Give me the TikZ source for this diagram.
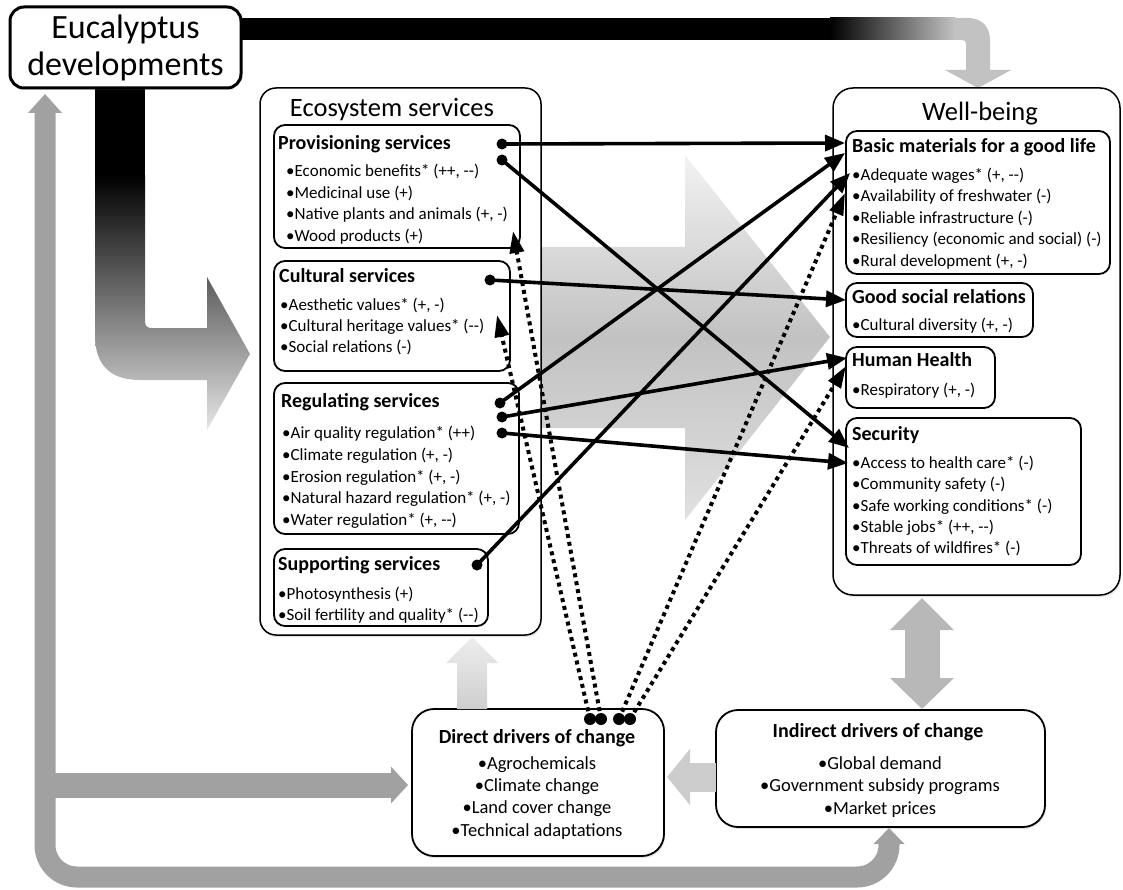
\documentclass[tikz,border=0pt]{standalone}
\usepackage{fontspec}
\setmainfont{Carlito}
\usetikzlibrary{arrows.meta,shadows}
\begin{document}
\begin{tikzpicture}[x=1pt,y=-1pt,
  shad/.style={drop shadow={shadow xshift=1pt,shadow yshift=-2pt,opacity=0.22}},
  obox/.style={draw, rounded corners=16pt, line width=1.5pt, fill=white, inner sep=0pt, shad},
  ibox/.style={draw, rounded corners=11pt, line width=1.8pt, fill=white, inner sep=0pt},
  dbox/.style={draw, rounded corners=22pt, line width=1.8pt, fill=white, inner sep=0pt, shad},
  ebox/.style={draw, rounded corners=14pt, line width=3pt, fill=white, inner sep=0pt, shad},
  head/.style={inner sep=0pt, font=\fontsize{20}{24}\selectfont\bfseries},
  item/.style={inner sep=0pt, font=\fontsize{17}{20}\selectfont},
  ditem/.style={inner sep=0pt, font=\fontsize{18.5}{22}\selectfont},
  title/.style={inner sep=0pt, font=\fontsize{26.5}{30}\selectfont},
  dot/.style={circle, fill=black, inner sep=0pt, minimum size=11pt},
  ddot/.style={circle, fill=black, inner sep=0pt, minimum size=12pt},
  conn/.style={line width=3.6pt, -{Triangle[length=20pt,width=16pt]}},
  dconn/.style={line width=4pt, dash pattern=on 4pt off 4pt, -{Triangle[length=22pt,width=14pt]}}
]
\useasboundingbox (0,0) rectangle (1123,890);

% ---------- big background arrow ----------
\path[top color=black!5, bottom color=black!12, middle color=black!24]
  (450,247) -- (685,247) -- (685,155) -- (830,337) -- (685,520) -- (685,428) -- (450,428) -- cycle;

% ---------- bent black arrow (left) ----------
\fill[black] (95,86) rectangle (145,176);
\path[top color=black, bottom color=black!10]
  (95,175) -- (95,335) .. controls (95,365) and (110,380) .. (140,380) -- (207,380) -- (207,430)
  -- (250,354) -- (207,277) -- (207,328) -- (152,328) .. controls (147,328) and (145,326) .. (145,321)
  -- (145,175) -- cycle;

% ---------- top black bar ----------
\fill[black] (238,18) rectangle (832,40);
\path[left color=black, right color=black!24] (830,18) rectangle (955,40);
\fill[black!24] (954,18) -- (968,18) .. controls (981,18) and (990,26) .. (990,40) -- (990,70)
  -- (1011,70) -- (978,88) -- (945,70) -- (966,70) -- (966,44)
  .. controls (966,41) and (965,40) .. (962,40) -- (954,40) -- cycle;

% ---------- boxes ----------
\node[ebox, minimum width=231pt, minimum height=81pt] (euc) at (125.5,47.5) {};
\node[obox, minimum width=281pt, minimum height=547pt] (eco) at (400.5,361.5) {};
\node[ibox, minimum width=246pt, minimum height=123pt] (prov) at (397,186.5) {};
\node[ibox, minimum width=236pt, minimum height=110pt] (cult) at (392,316) {};
\node[ibox, minimum width=245pt, minimum height=151pt] (reg) at (396.5,458.5) {};
\node[ibox, minimum width=214pt, minimum height=77pt] (supp) at (381,587.5) {};
\node[obox, rounded corners=20pt, minimum width=287pt, minimum height=507pt] (wb) at (976.5,341.5) {};
\node[ibox, minimum width=264pt, minimum height=143pt] (basic) at (978,202.5) {};
\node[ibox, minimum width=187pt, minimum height=54pt] (good) at (939.5,310) {};
\node[ibox, minimum width=149pt, minimum height=61pt] (hh) at (920.5,377.5) {};
\node[ibox, minimum width=235pt, minimum height=147pt] (sec) at (963.5,491.5) {};
\node[dbox, minimum width=252pt, minimum height=147pt] (dir) at (538,782.5) {};
\node[dbox, minimum width=329pt, minimum height=117pt] (ind) at (880.5,768.5) {};

% ---------- grey arrows ----------
\coordinate (indS) at (889,828);
\coordinate (eucS) at (45,94);
\draw[black!37, line width=21pt, rounded corners=32pt,
  {Triangle[length=16pt,width=30pt]}-{Triangle[length=19pt,width=33pt]}]
  (indS) -- (889,877) -- (45,877) -- (eucS);
\coordinate (brS) at (50,785);
\coordinate (dirW) at (408,785);
\draw[black!37, line width=25pt, -{Triangle[length=17pt,width=36pt]}] (brS) -- (dirW);
\coordinate (indW) at (716,777);
\coordinate (dirE) at (667,777);
\draw[black!20, line width=29pt, -{Triangle[length=23pt,width=55pt]}] (indW) -- (dirE);
\path[top color=black!7, bottom color=black!19]
  (457,709) -- (457,663) -- (446,663) -- (472,637) -- (498,663) -- (487,663) -- (487,709) -- cycle;
\coordinate (wbS) at (922,598);
\coordinate (indN) at (922,709);
\draw[black!28, line width=35pt,
  {Triangle[length=32pt,width=62pt]}-{Triangle[length=31pt,width=62pt]}] (wbS) -- (indN);

% ---------- texts ----------
\node[inner sep=0pt, align=center, font=\fontsize{34}{37}\selectfont] (eucT) at (125.5,48) {Eucalyptus\\developments};
\node[title, anchor=base] (ecoT) at (392,116.5) {Ecosystem services};
\node[title, anchor=base] (wbT) at (980,120.5) {Well-being};

\node[head, anchor=base west] (provH) at (278,149.5) {Provisioning services};
\foreach \t [count=\i] in {{•Economic benefits* (++, -{}-)},{•Medicinal use (+)},{•Native plants and animals (+, -)},{•Wood products (+)}}
  \node[item, anchor=base west] (provI\i) at (286,{176.5+21.7*(\i-1)}) {\t};

\node[head, anchor=base west] (cultH) at (279,282.5) {Cultural services};
\foreach \t [count=\i] in {{•Aesthetic values* (+, -)},{•Cultural heritage values* (-{}-)},{•Social relations (-)}}
  \node[item, anchor=base west] (cultI\i) at (280,{310.5+21*(\i-1)}) {\t};

\node[head, anchor=base west] (regH) at (281,407.5) {Regulating services};
\foreach \t [count=\i] in {{•Air quality regulation* (++)},{•Climate regulation (+, -)},{•Erosion regulation* (+, -)},{•Natural hazard regulation* (+, -)},{•Water regulation* (+, -{}-)}}
  \node[item, anchor=base west] (regI\i) at (282,{438.5+21.75*(\i-1)}) {\t};

\node[head, anchor=base west] (suppH) at (278,570.5) {Supporting services};
\foreach \t [count=\i] in {{•Photosynthesis (+)},{•Soil fertility and quality* (-{}-)}}
  \node[item, anchor=base west] (suppI\i) at (278,{599.5+21*(\i-1)}) {\t};

\node[head, anchor=base west] (basicH) at (852,152.5) {Basic materials for a good life};
\foreach \t [count=\i] in {{•Adequate wages* (+, -{}-)},{•Availability of freshwater (-)},{•Reliable infrastructure (-)},{•Resiliency (economic and social) (-)},{•Rural development (+, -)}}
  \node[item, anchor=base west] (basicI\i) at (852,{180.5+21.5*(\i-1)}) {\t};

\node[head, anchor=base west] (goodH) at (852,303.5) {Good social relations};
\node[item, anchor=base west] (goodI1) at (852,330.5) {•Cultural diversity (+, -)};

\node[head, anchor=base west] (hhH) at (852,366.5) {Human Health};
\node[item, anchor=base west] (hhI1) at (852,395.5) {•Respiratory (+, -)};

\node[head, anchor=base west] (secH) at (852,440.5) {Security};
\foreach \t [count=\i] in {{•Access to health care* (-)},{•Community safety (-)},{•Safe working conditions* (-)},{•Stable jobs* (++, -{}-)},{•Threats of wildfires* (-)}}
  \node[item, anchor=base west] (secI\i) at (852,{468.5+21.25*(\i-1)}) {\t};

\node[head, anchor=base] (dirH) at (537,743.5) {Direct drivers of change};
\foreach \t [count=\i] in {{•Agrochemicals},{•Climate change},{•Land cover change},{•Technical adaptations}}
  \node[ditem, anchor=base] (dirI\i) at (537,{769+22.4*(\i-1)}) {\t};

\node[head, anchor=base] (indH) at (878,737.5) {Indirect drivers of change};
\foreach \t [count=\i] in {{•Global demand},{•Government subsidy programs},{•Market prices}}
  \node[ditem, anchor=base] (indI\i) at (880,{769+22.8*(\i-1)}) {\t};

% ---------- connector end points ----------
\coordinate (bA) at (845,143);
\coordinate (bB) at (845,153);
\coordinate (bC) at (850,173);
\coordinate (bD) at (845,193);
\coordinate (gA) at (846,300);
\coordinate (hA) at (847,358);
\coordinate (hB) at (846,366);
\coordinate (sA) at (849,448);
\coordinate (sB) at (848,463);
\coordinate (pA) at (513,231);
\coordinate (cA) at (497,315);

% ---------- dots ----------
\node[dot] (p1) at (502,144) {};
\node[dot] (p2) at (502,160) {};
\node[dot] (c1) at (490,280) {};
\node[dot] (r1) at (500,403) {};
\node[dot] (r2) at (502,417) {};
\node[dot] (r3) at (502,433) {};
\node[dot] (s1) at (477,565) {};
\node[ddot] (d1) at (590,719) {};
\node[ddot] (d2) at (601,719) {};
\node[ddot] (d3) at (619,719) {};
\node[ddot] (d4) at (630,719) {};

% ---------- connectors ----------
\draw[conn] (p1.center) -- (bA);
\draw[conn] (p2.center) -- (sA);
\draw[conn] (c1.center) -- (gA);
\draw[conn] (r1.center) -- (bB);
\draw[conn] (r2.center) -- (hA);
\draw[conn] (r3.center) -- (sB);
\draw[conn] (s1.center) -- (bC);
\draw[dconn] (d1.center) -- (cA);
\draw[dconn] (d2.center) -- (pA);
\draw[dconn] (d3.center) -- (bD);
\draw[dconn] (d4.center) -- (hB);
\end{tikzpicture}
\end{document}
